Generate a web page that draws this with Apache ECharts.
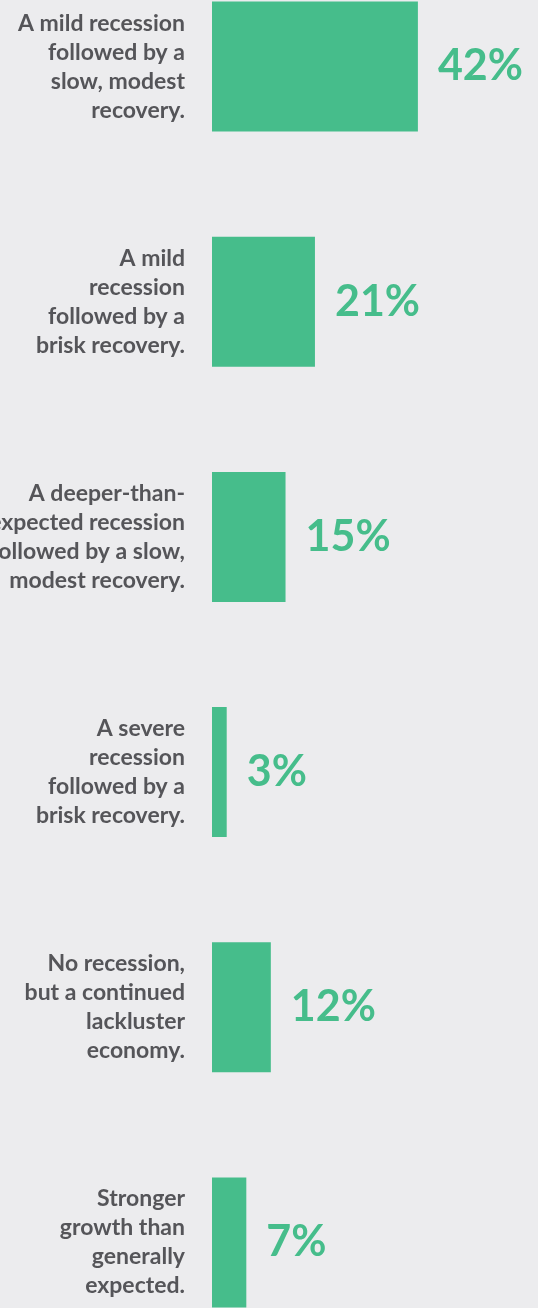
<!DOCTYPE html>
<html>
<head>
<meta charset="utf-8">
<script src="https://cdn.jsdelivr.net/npm/echarts@6/dist/echarts.min.js"></script>
<style>
  html, body { margin: 0; padding: 0; background: #ececee; overflow: hidden; }
  /* the category bands run past the top and bottom edge of the picture */
  #main { width: 538px; height: 1411px; position: relative; top: -51px; }
</style>
</head>
<body>
<div id="main"></div>
<script>
// scenarios, top to bottom (line breaks as in the graphic)
var categories = [
  'A mild recession\nfollowed by a\nslow, modest\nrecovery.',
  'A mild\nrecession\nfollowed by a\nbrisk recovery.',
  'A deeper-than-\nexpected recession\nfollowed by a slow,\nmodest recovery.',
  'A severe\nrecession\nfollowed by a\nbrisk recovery.',
  'No recession,\nbut a continued\nlackluster\neconomy.',
  'Stronger\ngrowth than\ngenerally\nexpected.'
];
var shares = [42, 21, 15, 3, 12, 7];

var myChart = echarts.init(document.getElementById('main'));
var option = {
  backgroundColor: '#ececee',
  animation: false,
  grid: {
    left: 212,
    right: 0,
    top: 0,
    bottom: 0,
    outerBoundsMode: 'none'
  },
  xAxis: {
    type: 'value',
    min: 0,
    max: 66.5,
    show: false
  },
  yAxis: {
    type: 'category',
    inverse: true,
    data: categories,
    axisLine: { show: false },
    axisTick: { show: false },
    axisLabel: {
      margin: 27,
      color: '#555559',
      fontFamily: 'Lato',
      fontWeight: 'bold',
      fontSize: 23,
      lineHeight: 29,
      align: 'right'
    }
  },
  series: [{
    type: 'bar',
    data: shares,
    barWidth: 130,
    itemStyle: { color: '#46bd8b' },
    label: {
      show: true,
      position: 'right',
      distance: 20,
      formatter: '{c}%',
      color: '#46bd8b',
      fontFamily: 'Lato',
      fontWeight: 'bold',
      fontSize: 43
    }
  }]
};
myChart.setOption(option);
</script>
</body>
</html>
